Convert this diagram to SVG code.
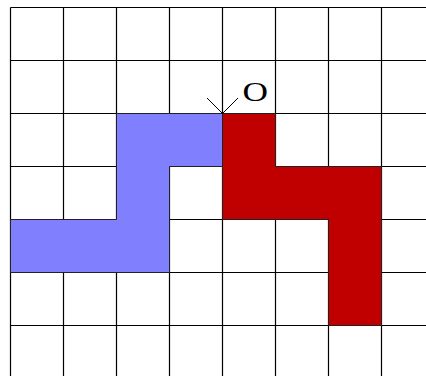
<svg xmlns="http://www.w3.org/2000/svg" width="426" height="376" viewBox="0 0 426 376">
<style>
.grid line{stroke:#000;stroke-width:1.2}
.shape{stroke:#222;stroke-width:1}
.arr{stroke:#000;stroke-width:1;fill:none}
text{font-family:"Liberation Serif","Times New Roman",serif;font-size:28px;fill:#000}
</style>
<rect width="426" height="376" fill="#fff"/>
<g class="grid" id="grid">
<line x1="10.5" y1="7.5" x2="10.5" y2="376"/>
<line x1="63.5" y1="7.5" x2="63.5" y2="376"/>
<line x1="116.5" y1="7.5" x2="116.5" y2="376"/>
<line x1="169.5" y1="7.5" x2="169.5" y2="376"/>
<line x1="222.5" y1="7.5" x2="222.5" y2="376"/>
<line x1="275.5" y1="7.5" x2="275.5" y2="376"/>
<line x1="328.5" y1="7.5" x2="328.5" y2="376"/>
<line x1="381.5" y1="7.5" x2="381.5" y2="376"/>
<line x1="10.5" y1="7.5" x2="426" y2="7.5"/>
<line x1="10.5" y1="60.5" x2="426" y2="60.5"/>
<line x1="10.5" y1="113.5" x2="426" y2="113.5"/>
<line x1="10.5" y1="166.5" x2="426" y2="166.5"/>
<line x1="10.5" y1="219.5" x2="426" y2="219.5"/>
<line x1="10.5" y1="272.5" x2="426" y2="272.5"/>
<line x1="10.5" y1="325.5" x2="426" y2="325.5"/>
</g>
<g id="blue"><polygon class="shape" fill="#8080ff" points="10.5,219.5 116.5,219.5 116.5,113.5 222.5,113.5 222.5,166.5 169.5,166.5 169.5,272.5 10.5,272.5"/></g>
<g id="red"><polygon class="shape" fill="#c00000" points="222.5,113.5 275.5,113.5 275.5,166.5 381.5,166.5 381.5,325.5 328.5,325.5 328.5,219.5 222.5,219.5"/></g>
<g id="origin">
<path class="arr" d="M207,98 L222.5,113.5 L238,98"/>
<text x="242.5" y="100.5" textLength="25.5" lengthAdjust="spacingAndGlyphs">O</text>
</g>
</svg>
